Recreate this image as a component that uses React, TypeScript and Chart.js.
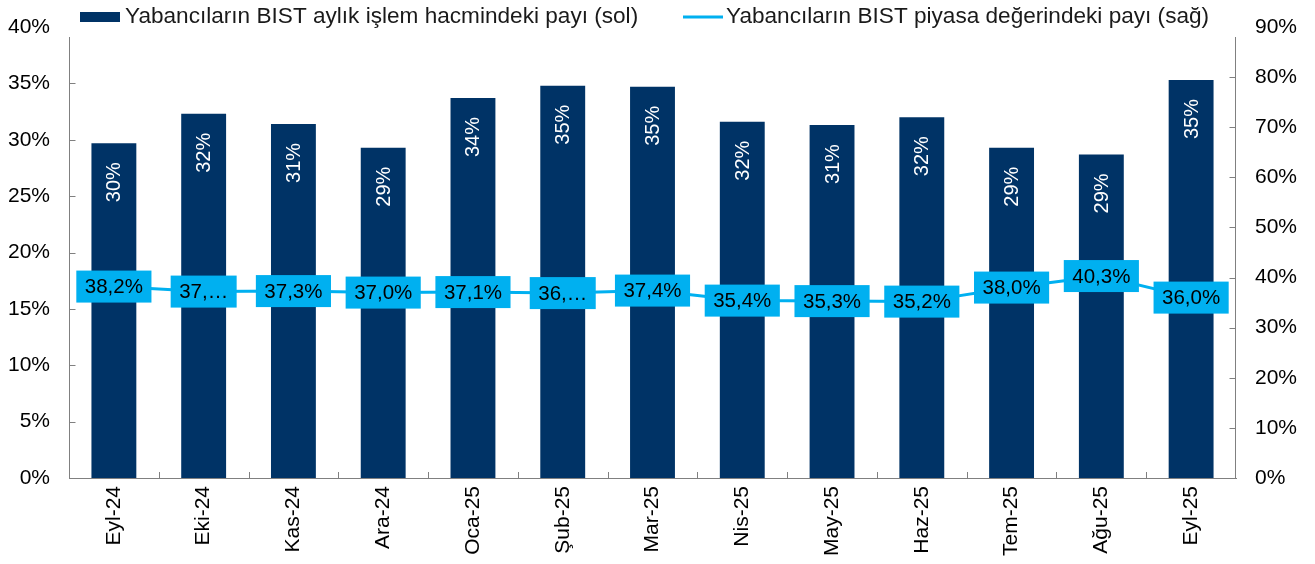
import React, { useEffect, useRef } from "react";
import { Chart, registerables } from "chart.js";

Chart.register(...registerables);

const categories = ["Eyl-24", "Eki-24", "Kas-24", "Ara-24", "Oca-25", "Şub-25", "Mar-25", "Nis-25", "May-25", "Haz-25", "Tem-25", "Ağu-25", "Eyl-25"];
const volumeShare = [29.7, 32.3, 31.4, 29.3, 33.7, 34.8, 34.7, 31.6, 31.3, 32.0, 29.3, 28.7, 35.3];
const volumeLabels = ["30%", "32%", "31%", "29%", "34%", "35%", "35%", "32%", "31%", "32%", "29%", "29%", "35%"];
const marketShare = [38.2, 37.2, 37.3, 37.0, 37.1, 36.9, 37.4, 35.4, 35.3, 35.2, 38.0, 40.3, 36.0];
const marketLabels = ["38,2%", "37,…", "37,3%", "37,0%", "37,1%", "36,…", "37,4%", "35,4%", "35,3%", "35,2%", "38,0%", "40,3%", "36,0%"];
const legendVolume = "Yabancıların BIST aylık işlem hacmindeki payı (sol)";
const legendMarket = "Yabancıların BIST piyasa değerindeki payı (sağ)";

const FONT = "'Liberation Sans', Arial, sans-serif";
const BAR_COLOR = "#003366";
const LINE_COLOR = "#00B0F0";
const AXIS_COLOR = "#808080";

const overlayPlugin = {
  id: "overlay",
  afterDatasetsDraw(chart: any) {
    const ctx = chart.ctx;
    const area = chart.chartArea;
    const y = chart.scales.y;
    const y1 = chart.scales.y1;
    ctx.save();
    // axis lines (start slightly below the top tick, as in the source plot area)
    ctx.strokeStyle = AXIS_COLOR;
    ctx.lineWidth = 1;
    ctx.beginPath();
    const lx = Math.round(area.left) + 0.5;
    const rx = Math.round(area.right) - 0.5;
    ctx.moveTo(lx, area.top + 10);
    ctx.lineTo(lx, area.bottom);
    ctx.moveTo(rx, area.top + 10);
    ctx.lineTo(rx, area.bottom);
    // inside ticks
    y.ticks.forEach((t: any) => {
      if (t.value === 40) return;
      const py = Math.round(y.getPixelForValue(t.value)) + 0.5;
      ctx.moveTo(lx, py);
      ctx.lineTo(lx + 6, py);
    });
    y1.ticks.forEach((t: any) => {
      if (t.value === 90) return;
      const py = Math.round(y1.getPixelForValue(t.value)) + 0.5;
      ctx.moveTo(rx - 6, py);
      ctx.lineTo(rx, py);
    });
    const step = (area.right - area.left) / categories.length;
    for (let i = 1; i < categories.length; i++) {
      const px = Math.round(area.left + step * i) + 0.5;
      ctx.moveTo(px, area.bottom);
      ctx.lineTo(px, area.bottom - 6);
    }
    ctx.stroke();

    // bar labels
    const barMeta = chart.getDatasetMeta(0);
    ctx.fillStyle = "#ffffff";
    ctx.font = `20px ${FONT}`;
    barMeta.data.forEach((el: any, i: number) => {
      ctx.save();
      ctx.translate(el.x, el.y + 19);
      ctx.rotate(-Math.PI / 2);
      ctx.textAlign = "right";
      ctx.textBaseline = "middle";
      ctx.fillText(volumeLabels[i], 0, 1);
      ctx.restore();
    });

    // line labels
    const lineMeta = chart.getDatasetMeta(1);
    ctx.font = `20.5px ${FONT}`;
    lineMeta.data.forEach((el: any, i: number) => {
      const txt = marketLabels[i];
      const w = ctx.measureText(txt).width + 17;
      const h = 32;
      ctx.fillStyle = LINE_COLOR;
      ctx.fillRect(el.x - w / 2, el.y - h / 2, w, h);
      ctx.fillStyle = "#000000";
      ctx.textAlign = "center";
      ctx.textBaseline = "middle";
      ctx.fillText(txt, el.x, el.y + 1);
    });

    // legend
    ctx.fillStyle = BAR_COLOR;
    ctx.fillRect(80, 12, 40, 10);
    ctx.strokeStyle = LINE_COLOR;
    ctx.lineWidth = 3;
    ctx.beginPath();
    ctx.moveTo(683, 17);
    ctx.lineTo(723, 17);
    ctx.stroke();
    ctx.fillStyle = "#1a1a1a";
    ctx.font = `22.6px ${FONT}`;
    ctx.textAlign = "left";
    ctx.textBaseline = "middle";
    ctx.fillText(legendVolume, 125, 17);
    ctx.fillText(legendMarket, 726, 17);
    ctx.restore();
  },
};

const noPad = (scale: any, w: number) => {
  scale.width = w;
  scale.paddingTop = 0;
  scale.paddingBottom = 0;
};

export default function App() {
  const ref = useRef<HTMLCanvasElement | null>(null);
  useEffect(() => {
    if (!ref.current) return;
    const chart = new Chart(ref.current, {
      type: "bar",
      data: {
        labels: categories,
        datasets: [
          {
            type: "bar",
            label: legendVolume,
            data: volumeShare,
            backgroundColor: BAR_COLOR,
            yAxisID: "y",
            barPercentage: 0.5,
            categoryPercentage: 1,
            order: 2,
          },
          {
            type: "line",
            label: legendMarket,
            data: marketShare,
            borderColor: LINE_COLOR,
            backgroundColor: LINE_COLOR,
            borderWidth: 3,
            pointRadius: 0,
            yAxisID: "y1",
            order: 1,
          } as any,
        ],
      },
      options: {
        animation: false,
        responsive: true,
        maintainAspectRatio: false,
        layout: { padding: { top: 27, left: 0, right: 0, bottom: 0 } },
        plugins: { legend: { display: false }, tooltip: { enabled: false } },
        scales: {
          x: {
            grid: { display: true, drawOnChartArea: false, drawTicks: false },
            border: { display: true, color: AXIS_COLOR, width: 1 },
            ticks: {
              color: "#000",
              font: { family: FONT, size: 21 },
              maxRotation: 90,
              minRotation: 90,
              padding: 8,
            },
            afterFit(scale: any) {
              scale.height = 86;
            },
          },
          y: {
            position: "left",
            min: 0,
            max: 40,
            grid: { display: false, drawOnChartArea: false, drawTicks: false },
            border: { display: false },
            ticks: {
              stepSize: 5,
              color: "#000",
              font: { family: FONT, size: 21 },
              padding: 19,
              callback: (v: any) => `${v}%`,
            },
            afterFit(scale: any) {
              noPad(scale, 69);
            },
          },
          y1: {
            position: "right",
            min: 0,
            max: 90,
            grid: { display: false, drawOnChartArea: false, drawTicks: false },
            border: { display: false },
            ticks: {
              stepSize: 10,
              color: "#000",
              font: { family: FONT, size: 21 },
              padding: 19,
              callback: (v: any) => `${v}%`,
            },
            afterFit(scale: any) {
              noPad(scale, 79);
            },
          },
        },
      },
      plugins: [overlayPlugin],
    });
    return () => chart.destroy();
  }, []);
  return (
    <div style={{ position: "absolute", left: 0, top: 0, width: 1315, height: 564, background: "#fff" }}>
      <canvas ref={ref} />
    </div>
  );
}
